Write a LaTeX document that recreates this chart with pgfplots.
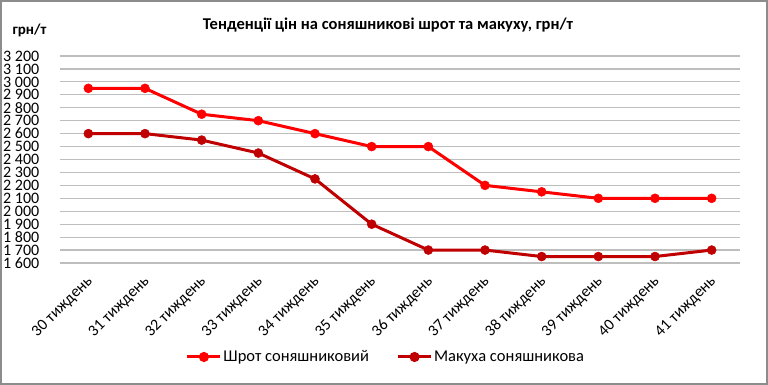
\documentclass[border=0pt]{standalone}
\usepackage{pgfplots}
\pgfplotsset{compat=1.18}
\usepackage{fontspec}
\setmainfont{Carlito}
\definecolor{shrot}{RGB}{255,0,0}
\definecolor{makuha}{RGB}{192,0,0}
\definecolor{gridc}{RGB}{190,190,190}
\definecolor{framec}{RGB}{140,140,140}
\begin{document}
\begin{tikzpicture}[x=1pt,y=1pt]
\fill[white] (0,0) rectangle (768,385);
\draw[framec, line width=2pt] (1,1) rectangle (767,384);
\node[font=\fontsize{16.5}{18}\selectfont\bfseries] at (388,360) {Тенденції цін на соняшникові шрот та макуху, грн/т};
\node[font=\fontsize{15}{16}\selectfont\bfseries] at (29.5,355) {грн/т};
\begin{axis}[
  at={(60pt,122pt)}, anchor=south west,
  scale only axis, width=680pt, height=207pt,
  xmin=-0.5, xmax=11.5, ymin=1600, ymax=3200,
  ytick={1600,1700,...,3200},
  xtick={0,...,11},
  xticklabels={30 тиждень,31 тиждень,32 тиждень,33 тиждень,34 тиждень,35 тиждень,36 тиждень,37 тиждень,38 тиждень,39 тиждень,40 тиждень,41 тиждень},
  axis line style={draw=none},
  major tick length=0pt,
  ymajorgrids, grid style={gridc, line width=1.2pt},
  /pgf/number format/assume math mode=true,
  /pgf/number format/1000 sep={\ },
  yticklabel style={font=\fontsize{16}{16}\selectfont, anchor=west, xshift=-57pt, inner sep=0pt},
  xticklabel style={font=\fontsize{16}{16}\selectfont, xshift=2pt, yshift=-16pt, rotate=45, anchor=east, inner sep=0pt},
  legend style={at={(0.479,-0.454)}, anchor=center, draw=none, font=\fontsize{16.5}{18}\selectfont, inner sep=0pt,
    nodes={inner sep=1.5pt},
    /tikz/every even column/.style={column sep=26pt}},
  legend columns=2,
  legend image code/.code={
    \draw[#1, line width=3pt] (0pt,0pt) -- (33pt,0pt);
    \fill[#1] (16.5pt,0pt) circle (3.5pt);
  },
  every axis plot/.append style={line width=3pt, mark=*, mark size=4.5pt},
  clip=false,
]
\addplot[color=shrot, mark options={fill=shrot, line width=0.5pt}] coordinates {
(0,2950)(1,2950)(2,2750)(3,2700)(4,2600)(5,2500)(6,2500)(7,2200)(8,2150)(9,2100)(10,2100)(11,2100)};
\addlegendentry{Шрот соняшниковий}
\addplot[color=makuha, mark options={fill=makuha, line width=0.5pt}] coordinates {
(0,2600)(1,2600)(2,2550)(3,2450)(4,2250)(5,1900)(6,1700)(7,1700)(8,1650)(9,1650)(10,1650)(11,1700)};
\addlegendentry{Макуха соняшникова}
\end{axis}
\end{tikzpicture}
\end{document}
